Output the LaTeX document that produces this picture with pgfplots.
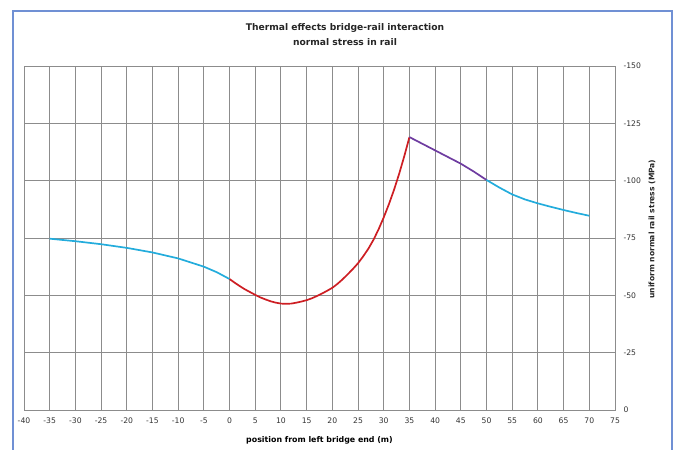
\documentclass[border=0pt]{standalone}
\usepackage{fontspec}
\setmainfont{DejaVu Sans}
\usepackage{pgfplots}
\pgfplotsset{compat=1.18}
\usetikzlibrary{calc}
\definecolor{cyanline}{RGB}{35,172,220}
\definecolor{redline}{RGB}{205,30,35}
\definecolor{purpleline}{RGB}{110,60,160}
\definecolor{gridgray}{RGB}{140,140,140}
\definecolor{frameblue}{RGB}{112,144,212}
\begin{document}
\begin{tikzpicture}
\begin{axis}[
  name=ax, at={(0,0)}, anchor=south west,
  scale only axis, width=591bp, height=344bp,
  xmin=-40, xmax=75, ymin=-150, ymax=0,
  y dir=reverse,
  xtick={-40,-35,...,75},
  ytick={-150,-125,...,0},
  yticklabel pos=right,
  major tick length=0pt,
  grid=major,
  grid style={gridgray, line width=1bp},
  axis line style={gridgray, line width=1bp},
  /pgf/number format/assume math mode=true,
  ticklabel style={font=\fontsize{7.7}{9}\selectfont, text=black!80},
  xticklabel style={yshift=-4bp},
  yticklabel style={anchor=west, xshift=5bp},
  xlabel={\textbf{position from left bridge end (m)}},
  xlabel style={font=\fontsize{7.9}{9}\selectfont, at={(axis description cs:0.5,0)}, anchor=center, yshift=-30bp},
  clip=false,
]
\addplot[cyanline, line width=1.7bp, line join=round] coordinates {
(-35,-74.7) (-30,-73.6) (-25,-72.3) (-20,-70.7) (-15,-68.7) (-10,-66.1) (-5,-62.5) (-2.5,-60.1) (0,-57.1)
};
\addplot[redline, line width=1.7bp, line join=round] coordinates {
(0,-57.1) (1,-55.5) (2,-54.0) (3,-52.6) (4,-51.4) (5,-50.2) (6,-49.1) (7,-48.2) (8,-47.4) (9,-46.8)
(10,-46.4) (11,-46.3) (12,-46.4) (13,-46.8) (14,-47.3) (15,-47.9) (16,-48.7) (17,-49.7) (18,-50.8)
(19,-52.0) (20,-53.3) (21,-55.0) (22,-57.0) (23,-59.2) (24,-61.5) (25,-64.0) (26,-67.0) (27,-70.3)
(28,-74.2) (29,-78.8) (30,-84.0) (31,-89.7) (32,-96.0) (33,-103.0) (34,-110.7) (35,-119.0)
};
\addplot[purpleline, line width=1.7bp, line join=round] coordinates {
(35,-119.0) (37.5,-116.1) (40,-113.2) (42.5,-110.3) (45,-107.4) (47.5,-104.0) (50,-100.3)
};
\addplot[cyanline, line width=1.7bp, line join=round] coordinates {
(50,-100.3) (52.5,-97.0) (55,-94.0) (57.5,-91.8) (60,-90.1) (62.5,-88.6) (65,-87.2) (67.5,-85.9) (70,-84.7)
};
\end{axis}
\path[use as bounding box] ($(ax.south west)+(-24bp,-40bp)$) rectangle ($(ax.south west)+(651bp,410bp)$);
\draw[frameblue, line width=1.5bp] ($(ax.south west)+(-11bp,-60bp)$) -- ($(ax.south west)+(-11bp,399bp)$) -- ($(ax.south west)+(648bp,399bp)$) -- ($(ax.south west)+(648bp,-60bp)$);
\node[rotate=90, font=\bfseries\fontsize{7.6}{9}\selectfont, text=black!85] at ($(ax.south west)+(628bp,181bp)$) {uniform normal rail stress (MPa)};
\node[font=\bfseries\fontsize{9.2}{11}\selectfont, text=black!85] at ($(ax.south west)+(321bp,382bp)$) {Thermal effects bridge-rail interaction};
\node[font=\bfseries\fontsize{9.2}{11}\selectfont, text=black!85] at ($(ax.south west)+(321bp,368bp)$) {normal stress in rail};
\end{tikzpicture}
\end{document}
